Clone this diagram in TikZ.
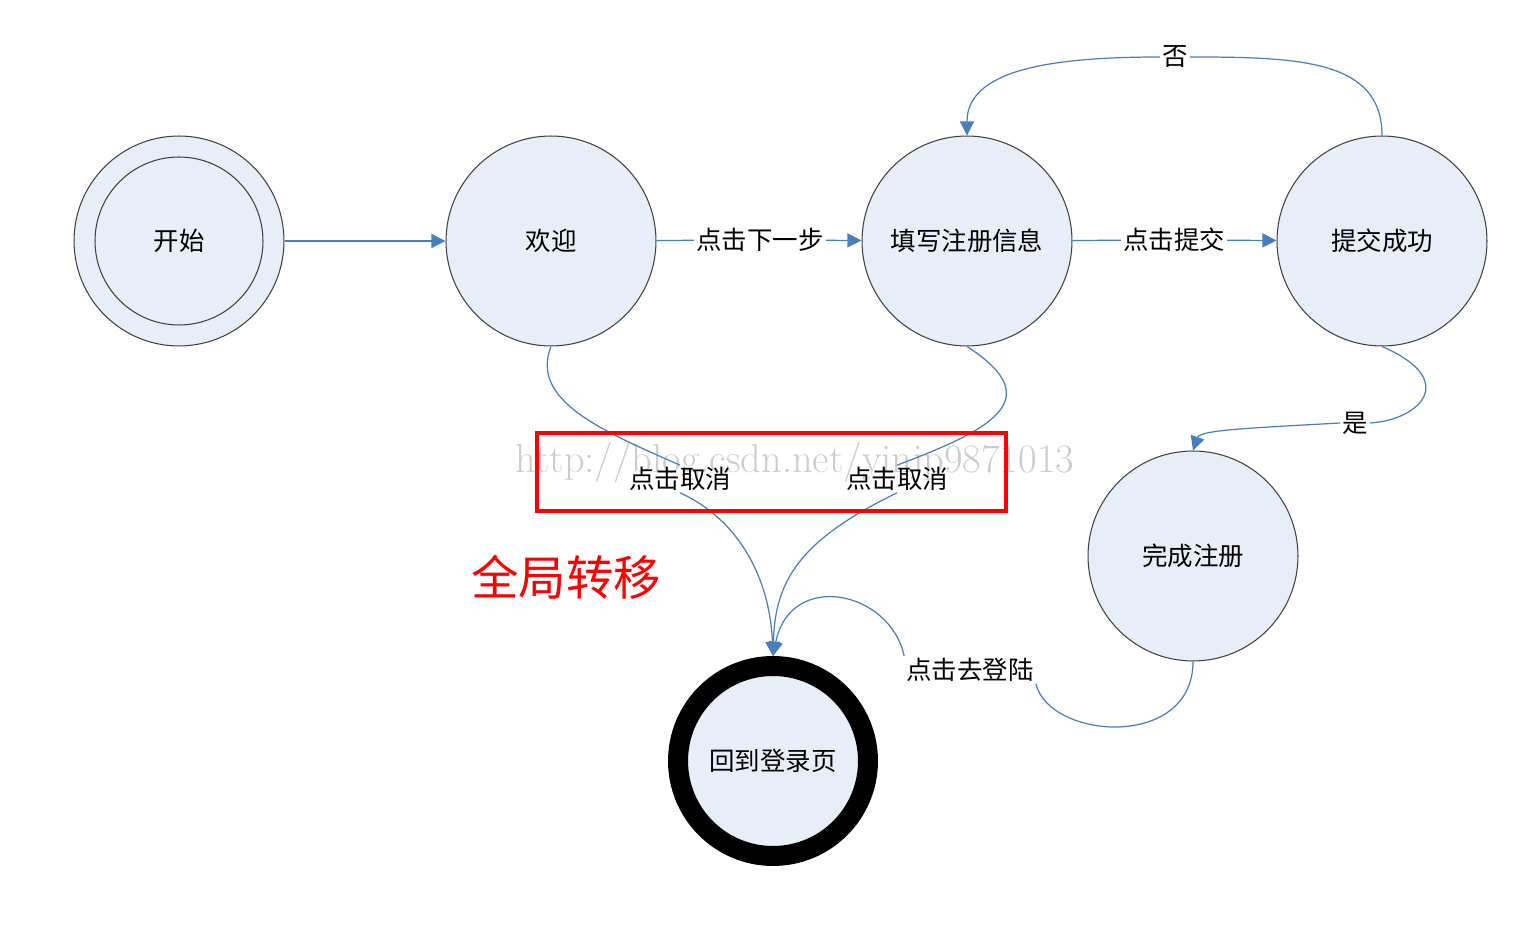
\documentclass[tikz,border=0pt]{standalone}
\usepackage{fontspec}
\newfontfamily\cjk{Noto Sans CJK SC}
\usetikzlibrary{arrows.meta}
\definecolor{edge}{HTML}{4A7EBB}
\definecolor{sfill}{HTML}{E8EEF7}
\tikzset{
  state/.style={circle,draw=black!75,fill=sfill,line width=0.6pt,minimum size=4.2cm,inner sep=0pt,font=\cjk\fontsize{14.5}{14.5}\selectfont},
  conn/.style={draw=edge,line width=0.7pt},
  arr/.style={conn,-{Triangle[length=8pt,width=8pt]}},
  lbl/.style={fill=white,inner sep=1pt,font=\cjk\fontsize{14.5}{14.5}\selectfont},
}
\begin{document}
\begin{tikzpicture}[x=0.02cm,y=-0.02cm]
\useasboundingbox (0,0) rectangle (1522,925);
\node[state] (start) at (179,241) {开始};
\node[circle,draw=black!75,minimum size=3.36cm,line width=0.6pt] (startin) at (179,241) {};
\node[state] (w) at (551,241) {欢迎};
\node[state] (f) at (967,241) {填写注册信息};
\node[state] (s) at (1382,241) {提交成功};
\node[state] (d) at (1193,556) {完成注册};
\node[state,draw=black,line width=0.4cm,minimum size=3.8cm] (b) at (773,761) {回到登录页};

\node[font=\fontsize{23}{23}\selectfont,text=black!20] (wm) at (795,462) {http://blog.csdn.net/yinjp9871013};

\node[lbl] (l1) at (760,240) {点击下一步};
\node[lbl] (l2) at (1174,240) {点击提交};
\node[lbl] (no) at (1175,57) {否};
\node[lbl] (yes) at (1355,423) {是};
\node[lbl,fill=none] (c1) at (680,479) {点击取消};
\node[lbl,fill=none] (c2) at (897,479) {点击取消};
\node[lbl] (g) at (970,670) {点击去登陆};

\draw[arr] (start) -- (w);
\draw[conn] (w) -- (l1); \draw[arr] (l1) -- (f);
\draw[conn] (f) -- (l2); \draw[arr] (l2) -- (s);
\draw[conn] (s.north) .. controls (1382,60) and (1300,57) .. (no.east);
\draw[arr] (no.west) .. controls (1050,57) and (967,70) .. (f.north);
\draw[conn] (s.south) .. controls (1460,380) and (1420,420) .. (yes.east);
\draw[arr] (yes.west) .. controls (1250,428) and (1200,430) .. (d.north);
\draw[conn] (w.south) .. controls (530,400) and (600,430) .. (c1.north);
\draw[arr] (c1.south) .. controls (740,520) and (770,580) .. (b.north);
\draw[conn] (f.south) .. controls (1050,400) and (990,430) .. (c2.north);
\draw[arr] (c2.south) .. controls (800,540) and (775,580) .. (b.north);
\draw[conn] (d.south) .. controls (1193,750) and (1050,740) .. (g.south east);
\draw[arr] (g.north west) .. controls (890,590) and (790,570) .. (b.north);

\draw[red,line width=2pt] (537,433) rectangle (1006,511);
\node[text=red,font=\cjk\fontsize{27}{27}\selectfont] (gt) at (566,577) {全局转移};
\end{tikzpicture}
\end{document}
